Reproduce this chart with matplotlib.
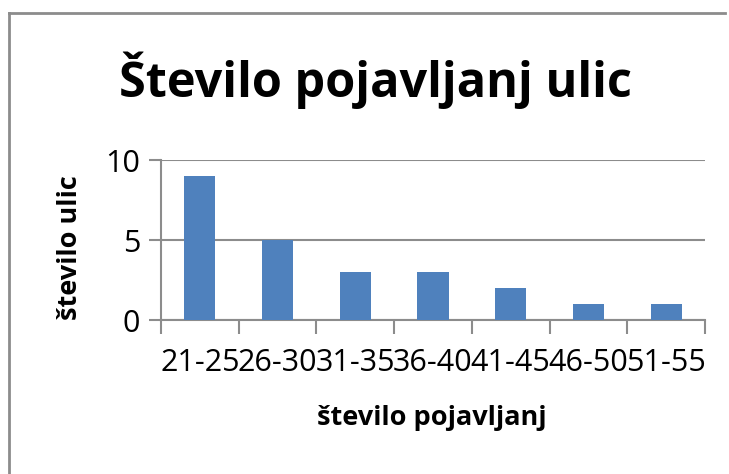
import matplotlib
matplotlib.use('Agg')
import matplotlib.pyplot as plt
from matplotlib.lines import Line2D

# Data
categories = ['21-25', '26-30', '31-35', '36-40', '41-45', '46-50', '51-55']
counts = [9, 5, 3, 3, 2, 1, 1]
y_ticks = [0, 5, 10]

W, H = 729, 474
plt.rcParams['font.family'] = ['Open Sans', 'DejaVu Sans']

fig = plt.figure(figsize=(W / 100, H / 100), dpi=100)

# outer chart border (only top + left fall inside the picture)
fig.add_artist(Line2D([8.5 / W, 8.5 / W], [-0.1, 1 - 12.5 / H], transform=fig.transFigure,
                      color='#8c8c8c', lw=2, solid_capstyle='projecting'))
fig.add_artist(Line2D([8.5 / W, 0.995], [1 - 12.5 / H, 1 - 12.5 / H], transform=fig.transFigure,
                      color='#8c8c8c', lw=2, solid_capstyle='projecting'))

ax = fig.add_axes([161 / W, (H - 320) / H, 544 / W, 160 / H])
x = range(len(categories))
ax.bar(x, counts, width=0.4, color='#4F81BD', zorder=3)

ax.set_xlim(-0.5, len(categories) - 0.5)
ax.set_ylim(0, 10)
ax.set_yticks(y_ticks)
ax.set_yticklabels([str(v) for v in y_ticks], fontsize=22)
ax.set_xticks([i - 0.5 for i in range(len(categories) + 1)], minor=False)
ax.set_xticklabels([])
ax.set_xticks(list(x), minor=True)
ax.set_xticklabels(categories, minor=True, fontsize=22)
ax.tick_params(axis='x', which='minor', length=0, pad=20)
ax.tick_params(axis='x', which='major', length=10, width=1.5, color='#8c8c8c')
ax.tick_params(axis='y', length=9, width=1.5, color='#8c8c8c', pad=6)

ax.grid(axis='y', color='#8c8c8c', lw=1.5, zorder=0)
for s in ['top', 'right']:
    ax.spines[s].set_visible(False)
for s in ['left', 'bottom']:
    ax.spines[s].set_color('#8c8c8c')
    ax.spines[s].set_linewidth(1.5)

fig.text(375 / W, 1 - 80 / H, 'Število pojavljanj ulic', ha='center', va='center',
         fontsize=35, fontweight='bold')
fig.text(70 / W, 1 - 248 / H, 'število ulic', ha='center', va='center', rotation=90,
         fontsize=19.5, fontweight='bold')
fig.text(432 / W, 1 - 418 / H, 'število pojavljanj', ha='center', va='center',
         fontsize=19.5, fontweight='bold')

fig.savefig('out.png', dpi=100)
